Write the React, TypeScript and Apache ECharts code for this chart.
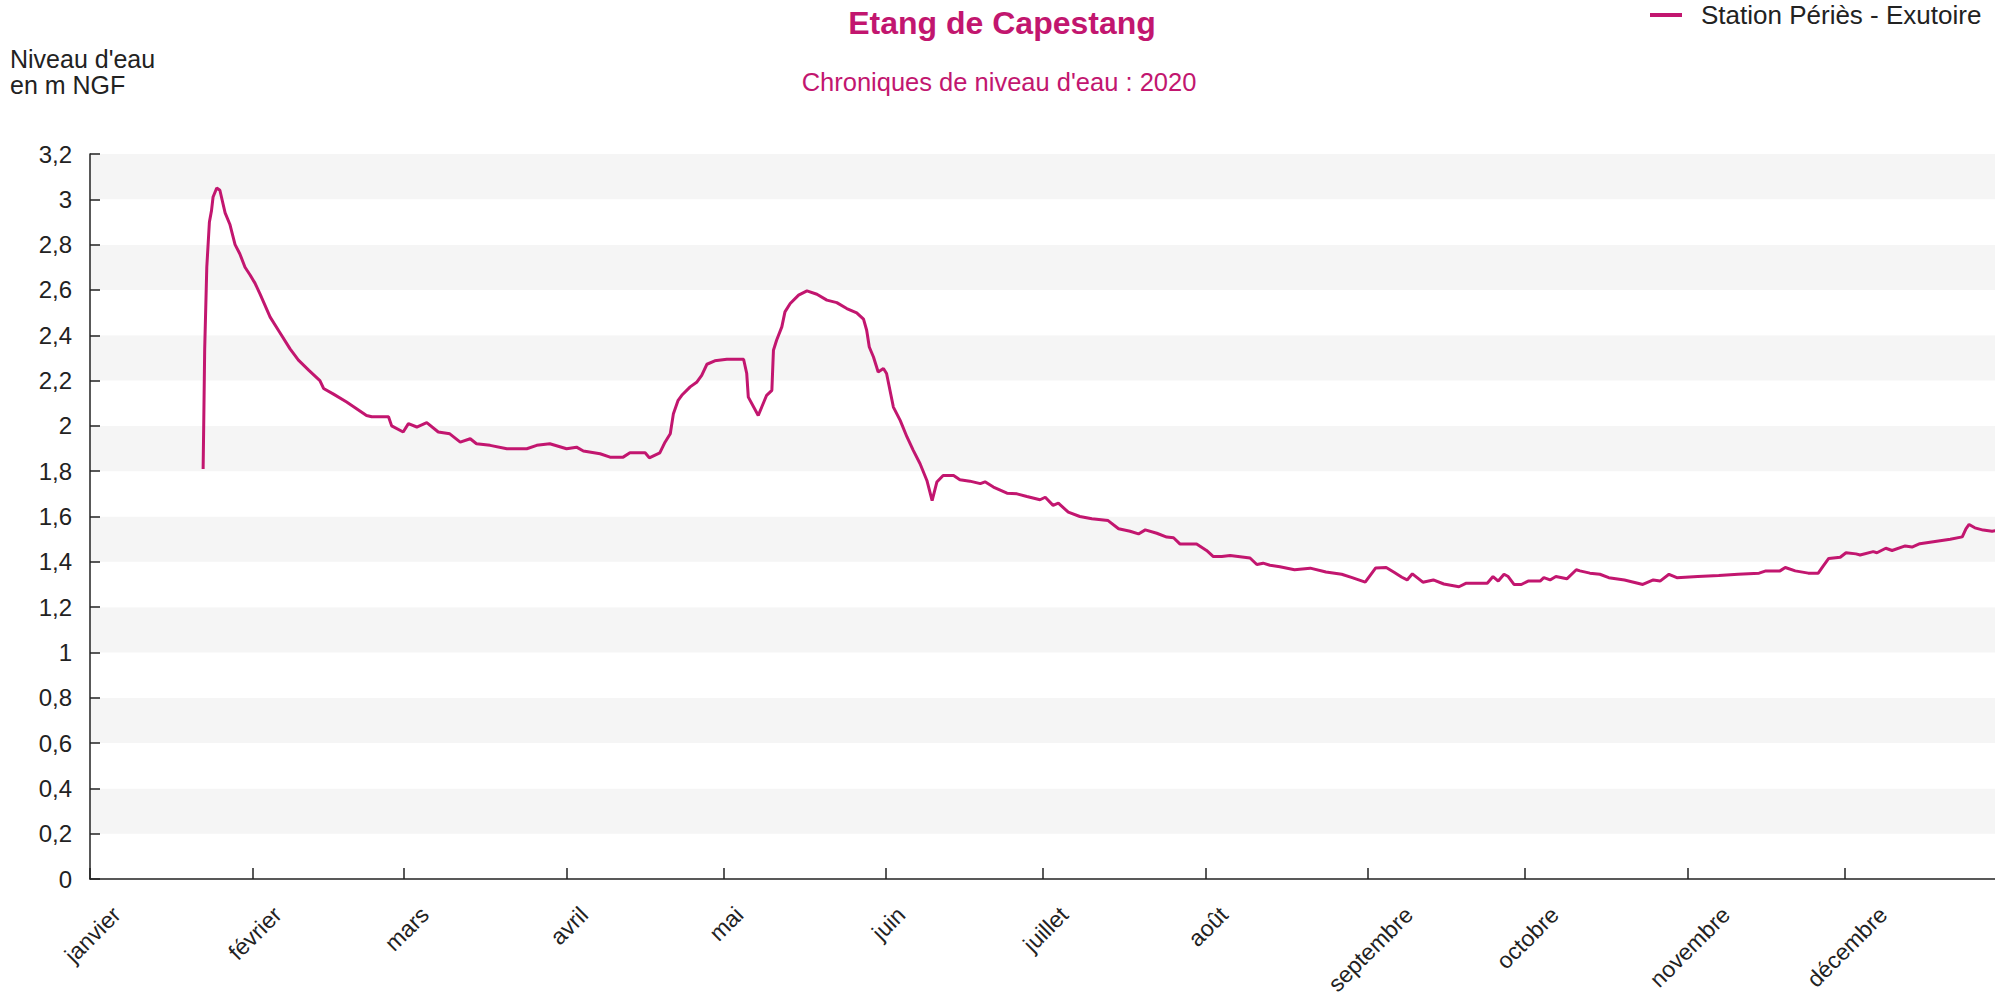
import React, { useEffect, useRef } from "react";
import * as echarts from "echarts";

const FONT = "'Liberation Sans', Arial, Helvetica, sans-serif";
const MAGENTA = "#c2166f";
const INK = "#222222";

const titleText = "Etang de Capestang";
const subtitleText = "Chroniques de niveau d'eau : 2020";
const yAxisTitleLines = ["Niveau d'eau", "en m NGF"];
const seriesName = "Station Périès - Exutoire";

const monthNames = [
  "janvier", "février", "mars", "avril", "mai", "juin",
  "juillet", "août", "septembre", "octobre", "novembre", "décembre",
];

// day of year (0 = 1 January 2020)
const dayOfYear = [
  21.6, 21.7, 21.9, 22.3, 22.8, 23.2, 23.5, 24.2, 24.8, 25.8, 26.7, 27.7, 28.6, 29.6, 30.6, 31.5,
  32.5, 34.4, 36.3, 38.2, 39.8, 41.8, 43.9, 44.6, 46.5, 49.0, 50.9, 52.8, 53.8, 57.0, 57.6, 59.8,
  60.8, 62.4, 64.3, 66.5, 68.7, 70.7, 72.6, 73.8, 76.4, 79.6, 83.4, 85.3, 87.8, 91.0, 92.9, 94.2,
  97.4, 99.3, 101.8, 103.1, 106.0, 106.8, 108.8, 109.8, 110.8, 111.4, 112.3, 113.0, 114.6, 115.9,
  116.8, 117.8, 119.3, 121.6, 124.8, 125.4, 125.7, 127.6, 129.2, 130.2, 130.5, 131.1, 132.1, 132.7,
  133.7, 135.3, 136.9, 138.8, 140.7, 142.6, 144.5, 146.4, 147.7, 148.3, 148.8, 149.6, 150.5, 151.5,
  152.1, 153.4, 154.7, 156.0, 157.2, 158.5, 159.8, 160.8, 161.7, 162.9, 164.9, 166.1, 168.0, 170.0,
  170.9, 172.5, 175.1, 177.0, 178.9, 181.4, 182.4, 183.9, 184.9, 186.8, 189.0, 191.3, 194.4, 196.4,
  198.6, 200.2, 201.5, 203.7, 205.6, 206.9, 208.1, 211.3, 213.2, 214.5, 216.1, 217.7, 221.5, 222.8,
  224.0, 225.3, 227.2, 230.0, 233.0, 236.0, 239.0, 241.0, 243.5, 245.5, 247.5, 249.0, 250.5, 251.5,
  252.5, 254.5, 256.5, 258.5, 261.4, 262.7, 266.8, 267.9, 268.9, 270.0, 270.8, 271.9, 273.3, 274.6,
  276.9, 277.6, 278.8, 279.9, 282.0, 283.8, 284.5, 286.4, 288.3, 290.0, 293.0, 296.5, 298.5, 299.8,
  301.5, 303.0, 307.0, 311.0, 314.7, 318.7, 320.0, 322.7, 323.7, 325.6, 328.1, 330.0, 330.9, 332.0,
  334.2, 335.3, 337.2, 338.0, 340.5, 341.2, 342.9, 344.1, 346.6, 347.9, 349.4, 352.3, 355.2, 357.5,
  358.2, 358.8, 359.9, 361.5, 363.2, 364.3,
];

// water level in m NGF
const levelValues = [
  1.81, 1.98, 2.34, 2.70, 2.90, 2.95, 3.01, 3.05, 3.04, 2.94, 2.89, 2.80, 2.76, 2.70, 2.665, 2.63,
  2.58, 2.48, 2.41, 2.34, 2.29, 2.245, 2.20, 2.165, 2.14, 2.105, 2.076, 2.046, 2.04, 2.04, 2.00, 1.973,
  2.01, 1.995, 2.014, 1.973, 1.965, 1.928, 1.943, 1.921, 1.914, 1.899, 1.899, 1.914, 1.921, 1.899, 1.906, 1.889,
  1.877, 1.862, 1.862, 1.881, 1.881, 1.859, 1.881, 1.928, 1.965, 2.054, 2.113, 2.135, 2.172, 2.194,
  2.223, 2.272, 2.287, 2.294, 2.294, 2.231, 2.127, 2.046, 2.135, 2.157, 2.334, 2.378, 2.437, 2.503,
  2.54, 2.577, 2.596, 2.581, 2.555, 2.544, 2.518, 2.499, 2.471, 2.422, 2.348, 2.304, 2.238, 2.253,
  2.231, 2.083, 2.024, 1.951, 1.892, 1.833, 1.759, 1.67, 1.752, 1.781, 1.781, 1.762, 1.756, 1.745,
  1.753, 1.730, 1.703, 1.700, 1.688, 1.674, 1.685, 1.649, 1.659, 1.619, 1.600, 1.590, 1.582, 1.546,
  1.535, 1.523, 1.541, 1.526, 1.509, 1.506, 1.479, 1.479, 1.450, 1.423, 1.423, 1.428, 1.417, 1.388,
  1.394, 1.385, 1.378, 1.365, 1.372, 1.355, 1.345, 1.330, 1.310, 1.373, 1.375, 1.354, 1.332, 1.320,
  1.347, 1.310, 1.320, 1.302, 1.29, 1.305, 1.305, 1.335, 1.315, 1.345, 1.335, 1.30, 1.30, 1.315,
  1.315, 1.33, 1.32, 1.335, 1.325, 1.365, 1.36, 1.35, 1.345, 1.33, 1.32, 1.30, 1.32, 1.315,
  1.345, 1.33, 1.335, 1.34, 1.345, 1.35, 1.36, 1.36, 1.375, 1.36, 1.35, 1.35, 1.38, 1.415,
  1.42, 1.44, 1.435, 1.43, 1.445, 1.44, 1.46, 1.45, 1.47, 1.465, 1.48, 1.49, 1.50, 1.51,
  1.545, 1.565, 1.55, 1.54, 1.535, 1.54,
];

const DAY = 86400000;
const T0 = Date.UTC(2020, 0, 1);
const AXIS_DAYS = 363.75;
const X_LABEL_SIZE = 23;

// Month labels: the rotated label's box is centred under its tick (as in the
// reference) rather than anchored by its end, so each label gets a small
// per-length offset via its own rich style.
function buildMonthRich() {
  const canvas = document.createElement("canvas");
  const ctx = canvas.getContext("2d");
  const widths = monthNames.map((m) => {
    if (!ctx) return m.length * X_LABEL_SIZE * 0.5;
    ctx.font = `${X_LABEL_SIZE}px ${FONT}`;
    return ctx.measureText(m).width;
  });
  const base = widths[1];
  const rich: Record<string, any> = {};
  monthNames.forEach((_, i) => {
    const d = 0.25 * (widths[i] - base);
    rich["m" + i] = {
      fontSize: X_LABEL_SIZE,
      fontFamily: FONT,
      color: INK,
      padding: [57 + d, 33 - d, 0, 0],
    };
  });
  return rich;
}

export default function App() {
  const ref = useRef<HTMLDivElement>(null);

  useEffect(() => {
    if (!ref.current) return;
    const chart = echarts.init(ref.current, undefined, { renderer: "svg" });
    const data = dayOfYear.map((d, i) => [T0 + d * DAY, levelValues[i]]);
    const monthRich = buildMonthRich();

    chart.setOption({
      animation: false,
      useUTC: true,
      backgroundColor: "#ffffff",
      textStyle: { fontFamily: FONT },
      legend: {
        data: [seriesName],
        left: 1650,
        top: 2,
        padding: 0,
        icon: "rect",
        itemWidth: 32,
        itemHeight: 4,
        textStyle: { fontSize: 26, color: INK, fontFamily: FONT, padding: [0, 0, 0, 14] },
      },
      grid: {
        left: 90,
        right: 0,
        top: 154,
        bottom: 119,
        containLabel: false,
        outerBoundsMode: "none",
      },
      xAxis: {
        type: "time",
        min: T0,
        max: T0 + AXIS_DAYS * DAY,
        splitNumber: 12,
        minInterval: 28 * DAY,
        maxInterval: 31 * DAY,
        axisLine: { show: true, lineStyle: { color: INK, width: 1.5 } },
        axisTick: { show: true, inside: true, length: 11, lineStyle: { color: INK, width: 1.5 } },
        splitLine: { show: false },
        minorTick: { show: false },
        axisLabel: {
          rotate: 45,
          fontSize: X_LABEL_SIZE,
          color: INK,
          fontFamily: FONT,
          align: "right",
          verticalAlign: "top",
          margin: -40,
          rich: monthRich,
          formatter: (v: number) => {
            const d = new Date(v);
            if (d.getUTCDate() !== 1 || d.getUTCHours() !== 0) return "";
            const m = d.getUTCMonth();
            return `{m${m}|${monthNames[m]}}`;
          },
        },
      },
      yAxis: {
        type: "value",
        min: 0,
        max: 3.2,
        interval: 0.2,
        axisLine: { show: true, lineStyle: { color: INK, width: 1.5 } },
        axisTick: { show: true, inside: true, length: 10, lineStyle: { color: INK, width: 1.5 } },
        splitLine: { show: false },
        splitArea: { show: true, areaStyle: { color: ["#ffffff", "#f5f5f5"] } },
        axisLabel: {
          fontSize: 24,
          color: INK,
          fontFamily: FONT,
          margin: 18,
          formatter: (v: number) => String(Math.round(v * 10) / 10).replace(".", ","),
        },
      },
      series: [
        {
          name: seriesName,
          type: "line",
          data,
          showSymbol: false,
          symbol: "none",
          lineStyle: { color: MAGENTA, width: 3 },
          itemStyle: { color: MAGENTA },
        },
      ],
      graphic: [
        {
          type: "text",
          x: 1002,
          y: 23,
          style: {
            text: titleText,
            fill: MAGENTA,
            fontSize: 32,
            fontWeight: "bold",
            fontFamily: FONT,
            textAlign: "center",
            textVerticalAlign: "middle",
          },
        },
        {
          type: "text",
          x: 999,
          y: 82,
          style: {
            text: subtitleText,
            fill: MAGENTA,
            fontSize: 25.5,
            fontFamily: FONT,
            textAlign: "center",
            textVerticalAlign: "middle",
          },
        },
        {
          type: "text",
          x: 10,
          y: 58.5,
          style: {
            text: yAxisTitleLines[0],
            fill: INK,
            fontSize: 25,
            fontFamily: FONT,
            textAlign: "left",
            textVerticalAlign: "middle",
          },
        },
        {
          type: "text",
          x: 10,
          y: 84.5,
          style: {
            text: yAxisTitleLines[1],
            fill: INK,
            fontSize: 25,
            fontFamily: FONT,
            textAlign: "left",
            textVerticalAlign: "middle",
          },
        },
      ],
    });

    return () => chart.dispose();
  }, []);

  return (
    <div
      ref={ref}
      style={{ position: "absolute", left: 0, top: 0, width: 1995, height: 998 }}
    />
  );
}
